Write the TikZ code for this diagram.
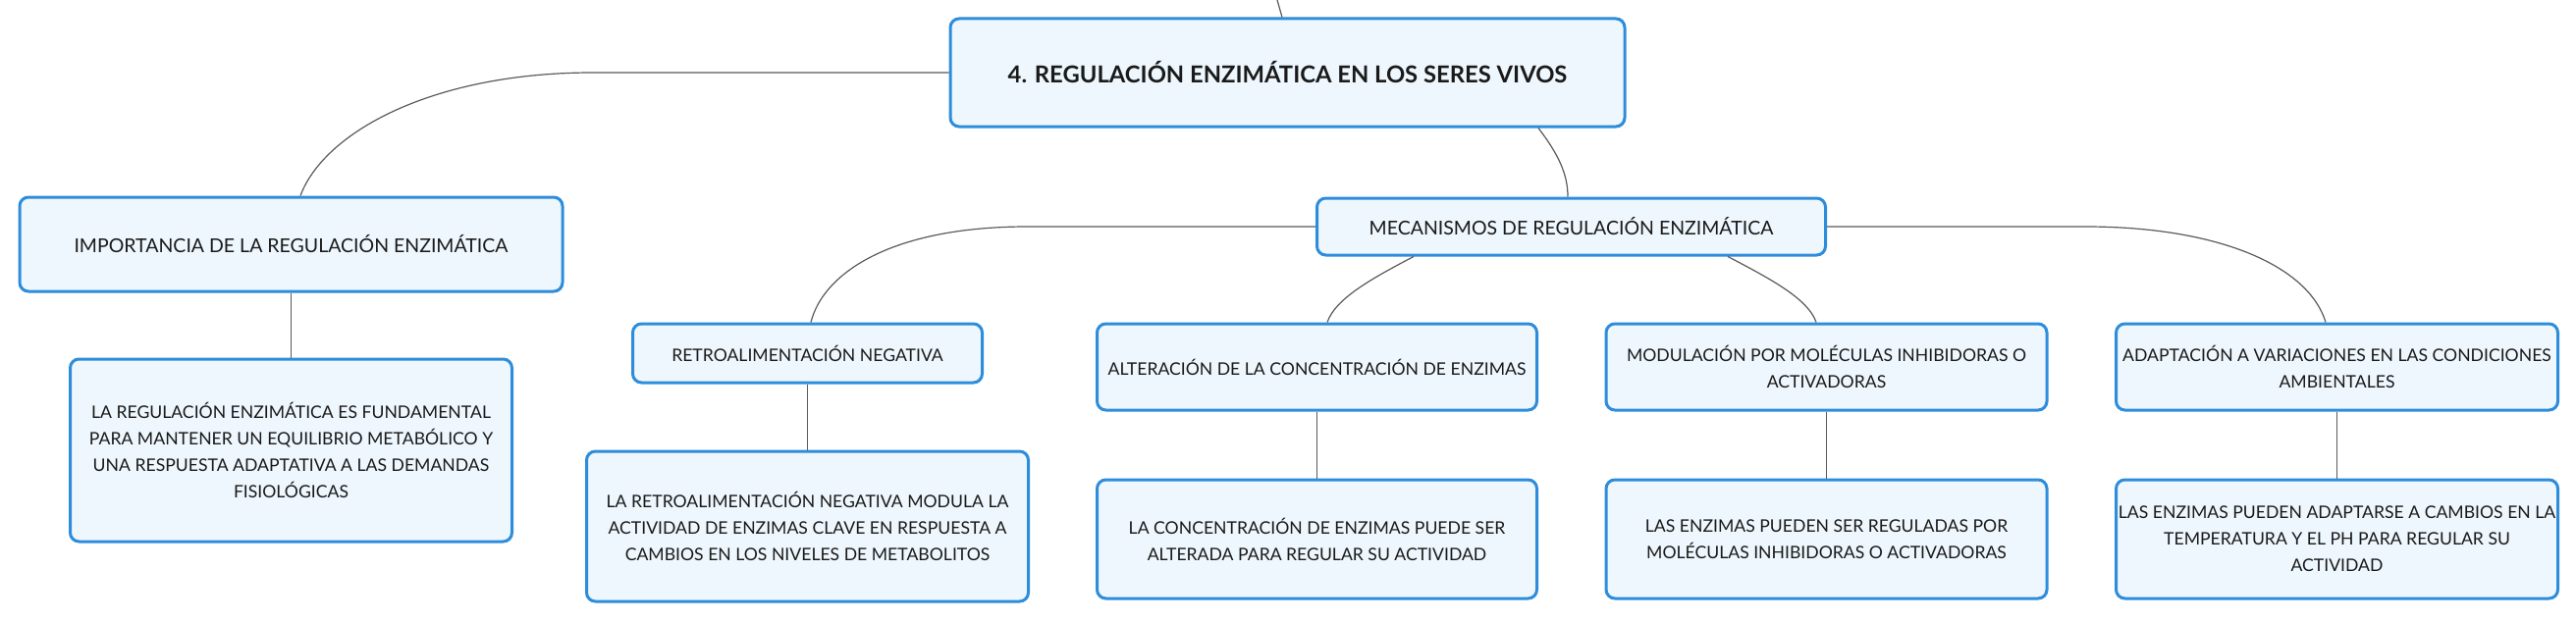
\documentclass[tikz,border=0pt]{standalone}
\usepackage{fontspec}
\setmainfont{Lato}
\definecolor{bfill}{HTML}{EEF7FD}
\definecolor{bdraw}{HTML}{2E8DDB}
\definecolor{conncol}{HTML}{5A5A5A}
\definecolor{txt}{HTML}{1A1A1A}
\tikzset{
  box/.style={draw=bdraw, fill=bfill, line width=3pt, rounded corners=9pt,
    align=center, inner sep=0pt, text=txt,
    font=\fontsize{17.6}{27}\selectfont},
  lvlone/.style={box, font=\fontsize{19.5}{27}\selectfont},
  rootbox/.style={box, font=\fontsize{23.8}{28}\selectfont\bfseries},
  conn/.style={draw=conncol, line width=1.2pt}
}
\begin{document}
\begin{tikzpicture}[x=1pt,y=-1pt]
\useasboundingbox[fill=white] (0,0) rectangle (2624,634);
% nodes
\node[rootbox, minimum width=687pt, minimum height=110pt] (root) at (1311.5,74)
  {4. REGULACIÓN ENZIMÁTICA EN LOS SERES VIVOS};
\node[lvlone, minimum width=553pt, minimum height=96pt] (imp) at (296.5,249)
  {IMPORTANCIA DE LA REGULACIÓN ENZIMÁTICA};
\node[box, minimum width=450pt, minimum height=186pt] (impc) at (296.5,459)
  {LA REGULACIÓN ENZIMÁTICA ES FUNDAMENTAL\\PARA MANTENER UN EQUILIBRIO METABÓLICO Y\\UNA RESPUESTA ADAPTATIVA A LAS DEMANDAS\\FISIOLÓGICAS};
\node[lvlone, minimum width=518pt, minimum height=58pt] (mec) at (1600.5,231)
  {MECANISMOS DE REGULACIÓN ENZIMÁTICA};
\node[box, minimum width=356pt, minimum height=60pt] (retro) at (822.5,360)
  {RETROALIMENTACIÓN NEGATIVA};
\node[box, minimum width=450pt, minimum height=153pt] (retroc) at (822.5,536.5)
  {LA RETROALIMENTACIÓN NEGATIVA MODULA LA\\ACTIVIDAD DE ENZIMAS CLAVE EN RESPUESTA A\\CAMBIOS EN LOS NIVELES DE METABOLITOS};
\node[box, minimum width=448pt, minimum height=88pt] (alt) at (1341.5,374)
  {ALTERACIÓN DE LA CONCENTRACIÓN DE ENZIMAS};
\node[box, minimum width=448pt, minimum height=121pt] (altc) at (1341.5,549.5)
  {LA CONCENTRACIÓN DE ENZIMAS PUEDE SER\\ALTERADA PARA REGULAR SU ACTIVIDAD};
\node[box, minimum width=449pt, minimum height=88pt] (mod) at (1860.5,374)
  {MODULACIÓN POR MOLÉCULAS INHIBIDORAS O\\ACTIVADORAS};
\node[box, minimum width=449pt, minimum height=121pt] (modc) at (1860.5,549.5)
  {LAS ENZIMAS PUEDEN SER REGULADAS POR\\MOLÉCULAS INHIBIDORAS O ACTIVADORAS};
\node[box, minimum width=450pt, minimum height=88pt] (ada) at (2380.5,374)
  {ADAPTACIÓN A VARIACIONES EN LAS CONDICIONES\\AMBIENTALES};
\node[box, minimum width=450pt, minimum height=121pt] (adac) at (2380.5,549.5)
  {LAS ENZIMAS PUEDEN ADAPTARSE A CAMBIOS EN LA\\TEMPERATURA Y EL PH PARA REGULAR SU\\ACTIVIDAD};
% connectors
\coordinate (topend) at (1301,0);
\draw[conn] (topend) .. controls (1303,8) .. ([xshift=-5.5pt]root.north);
\draw[conn] (root.west) -- (604,74) .. controls (440,74) and (330,135) .. ([xshift=9.5pt]imp.north);
\draw[conn] ([xshift=255.5pt]root.south) .. controls (1588,158) and (1597,178) .. ([xshift=-3.5pt]mec.north);
\draw[conn] (mec.west) -- (1047,231) .. controls (905,231) and (838,280) .. ([xshift=3.5pt]retro.north);
\draw[conn] ([xshift=-160.5pt]mec.south) .. controls (1395,285) and (1360,305) .. ([xshift=10.5pt]alt.north);
\draw[conn] ([xshift=159.5pt]mec.south) .. controls (1805,285) and (1842,305) .. ([xshift=-10.5pt]mod.north);
\draw[conn] (mec.east) -- (2124,231) .. controls (2262,231) and (2352,272) .. ([xshift=-11.5pt]ada.north);
\draw[conn] (imp.south) -- (impc.north);
\draw[conn] (retro.south) -- (retroc.north);
\draw[conn] (alt.south) -- (altc.north);
\draw[conn] (mod.south) -- (modc.north);
\draw[conn] (ada.south) -- (adac.north);
\end{tikzpicture}
\end{document}
